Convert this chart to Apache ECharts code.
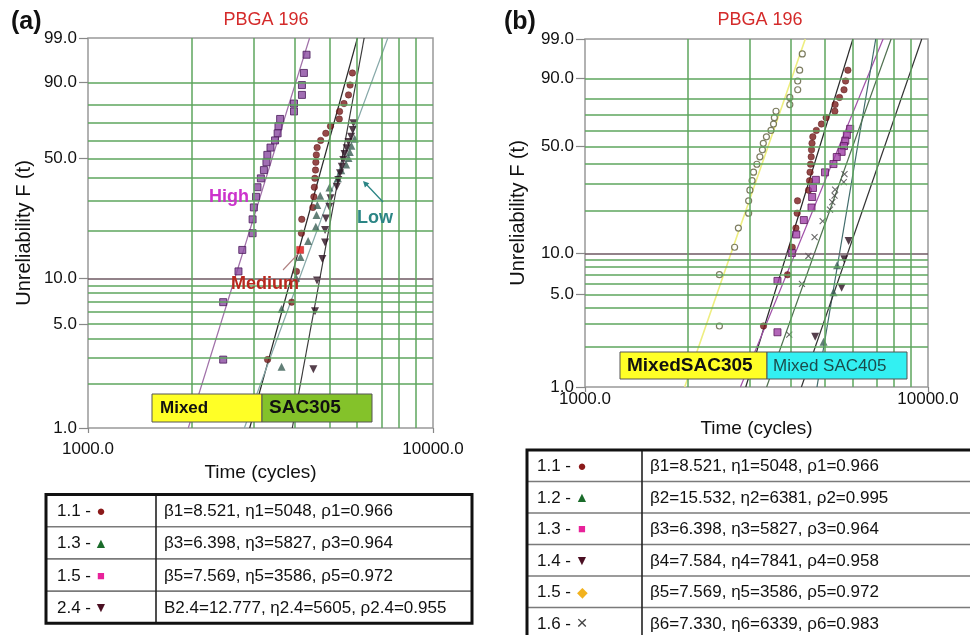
<!DOCTYPE html>
<html>
<head>
<meta charset="utf-8">
<title>PBGA 196 - Weibull plots</title>
<script src="https://cdn.jsdelivr.net/npm/echarts@6.0.0/dist/echarts.min.js"></script>
<style>
  html, body { margin: 0; padding: 0; background: #fff; }
  #chart { width: 970px; height: 635px; }
</style>
</head>
<body>
<div id="chart"></div>
<script>
// Weibull probability plots (a) and (b), PBGA 196
// x: time (cycles) on log scale, y: unreliability F(t) in % on Weibull scale

// grid and tick values
const fGrid = [2, 3, 4, 5, 6, 7, 8, 9, 10, 20, 30, 40, 50, 60, 70, 80, 90];
const fLabels = [1, 5, 10, 50, 90, 99];
const tGrid = [2000, 3000, 4000, 5000, 6000, 7000, 8000, 9000];
const tLabels = [1000, 10000];

// failure data: time (cycles) / F (%)
const t11 = [5840, 5750, 5690, 5520, 5360, 5350, 5045, 4890, 4725, 4615, 4590, 4575, 4565, 4545, 4530, 4515, 4485, 4165, 4155, 4120, 4020, 3895, 3315];
const f11 = [93.0, 88.9, 84.8, 80.7, 76.6, 72.5, 68.4, 64.3, 60.2, 56.1, 52.0, 48.0, 43.9, 39.8, 35.7, 31.6, 27.5, 23.4, 19.3, 15.2, 11.1, 7.0, 2.9];

const t12 = [5430, 5300, 4960];
const f12 = [8.2, 5.2, 2.2];

const t13 = [5930, 5800, 5740, 5690, 5600, 5420, 5300, 5010, 4710, 4620, 4595, 4575, 4345, 4130, 4010, 3640, 3640];
const f13 = [61.2, 57.2, 53.6, 50.3, 46.8, 43.8, 39.9, 35.6, 32.0, 28.4, 24.8, 21.1, 17.3, 13.7, 10.1, 6.3, 2.6];

const t14 = [5870, 5700, 5600, 4690];
const f14 = [12.3, 9.1, 5.6, 2.4];

const t15 = [4300, 4225, 4170, 4170, 3955, 3955, 3605, 3565, 3545, 3485, 3380, 3310, 3290, 3235, 3170, 3100, 3070, 3025, 3000, 3000, 2800, 2730, 2465, 2465];
const f15 = [97.1, 93.0, 88.9, 84.8, 80.7, 76.6, 72.5, 68.4, 64.3, 60.2, 56.1, 52.0, 48.0, 43.9, 39.8, 35.7, 31.6, 27.5, 23.4, 19.3, 15.2, 11.1, 7.0, 2.9];

const t16 = [5710, 5680, 5360, 5340, 5260, 5180, 4930, 4670, 4480, 4290, 3940];
const f16 = [34.7, 31.0, 27.7, 25.3, 22.9, 20.4, 17.0, 13.1, 9.6, 6.0, 2.5];

const t24 = [5880, 5850, 5790, 5690, 5620, 5540, 5495, 5440, 5375, 5315, 5260, 5045, 5005, 4895, 4865, 4865, 4780, 4610, 4550, 4500];
const f24 = [70.1, 66.2, 62.3, 59.3, 55.7, 52.5, 49.2, 45.6, 42.3, 39.0, 35.9, 31.0, 27.7, 23.7, 20.2, 16.9, 13.3, 9.7, 6.1, 2.5];

// the "Medium" point of set 1.1 drawn in red in (a)
const mediumF = 15.2;

// Weibull fit parameters (tables)
const setIds = ['1.1', '1.2', '1.3', '1.4', '1.5', '1.6', '2.4'];
const beta = [8.521, 15.532, 6.398, 7.584, 7.569, 7.330, 12.777];
const eta = [5048, 6381, 5827, 7841, 3586, 6339, 5605];
const rho = [0.966, 0.995, 0.964, 0.958, 0.972, 0.983, 0.955];

const rowsA = ['1.1', '1.3', '1.5', '2.4'];
const rowsB = ['1.1', '1.2', '1.3', '1.4', '1.5', '1.6'];

// ---- helpers ----
const weib = f => Math.log(-Math.log(1 - f / 100));
const lg = t => Math.log10(t);
const toPts = (ts, fs) => ts.map((t, i) => [lg(t), weib(fs[i])]);
const fLo = fLabels[0], fHi = fLabels[fLabels.length - 1];

function fitLine(id) {
  const k = setIds.indexOf(id);
  return [fLo, fHi].map(f => [lg(eta[k]) + weib(f) / (beta[k] * Math.LN10), weib(f)]);
}

function paramText(id) {
  const k = setIds.indexOf(id);
  const sub = id.charAt(0) === '1' ? id.slice(2) : id;
  const b = id === '2.4' ? 'B' : 'β';
  return b + sub + '=' + beta[k].toFixed(3) + ', η' + sub + '=' + eta[k] + ', ρ' + sub + '=' + rho[k].toFixed(3);
}

const FONT = '"Liberation Sans", Arial, sans-serif';

function xAx(gi, margin, gap) {
  const vals = tLabels.map(lg);
  return {
    type: 'value', gridIndex: gi, min: vals[0], max: vals[1],
    axisLine: { show: false, onZero: false }, splitLine: { show: false },
    axisTick: { show: true, customValues: vals, length: 5, lineStyle: { color: '#888', width: 1.2 } },
    axisLabel: { customValues: vals, formatter: v => Math.pow(10, v).toFixed(1), fontSize: 17, color: '#111', margin: margin },
    name: 'Time (cycles)', nameLocation: 'middle', nameGap: gap,
    nameTextStyle: { fontSize: 19, color: '#111' }
  };
}

function yAx(gi, gap) {
  const vals = fLabels.map(weib);
  return {
    type: 'value', gridIndex: gi, min: vals[0], max: vals[vals.length - 1],
    axisLine: { show: false, onZero: false }, splitLine: { show: false },
    axisTick: { show: true, customValues: vals, length: 9, lineStyle: { color: '#888', width: 1.2 } },
    axisLabel: {
      customValues: vals, fontSize: 17, color: '#111', margin: 11,
      formatter: v => (100 * (1 - Math.exp(-Math.exp(v)))).toFixed(1)
    },
    name: 'Unreliability F (t)', nameLocation: 'middle', nameGap: gap,
    nameTextStyle: { fontSize: 20, color: '#111' }
  };
}

function gridLines(gi) {
  const data = fGrid.map(f => f === 10
      ? { yAxis: weib(f), lineStyle: { color: '#6e5862', width: 1.5, type: 'solid' } }
      : { yAxis: weib(f) })
    .concat(tGrid.map(t => ({ xAxis: lg(t) })));
  return {
    type: 'line', xAxisIndex: gi, yAxisIndex: gi, data: [], z: 1, silent: true,
    markLine: {
      symbol: ['none', 'none'], silent: true, animation: false,
      label: { show: false },
      lineStyle: { color: '#5ea65e', width: 1.5, type: 'solid' },
      data: data
    }
  };
}

function fit(gi, id, color, width) {
  return {
    type: 'line', xAxisIndex: gi, yAxisIndex: gi, data: fitLine(id),
    symbol: 'none', silent: true, z: 3,
    lineStyle: { color: color, width: width || 1.2 }
  };
}

function dots(gi, pts, symbol, size, style, extra) {
  return Object.assign({
    type: 'scatter', xAxisIndex: gi, yAxisIndex: gi, data: pts,
    symbol: symbol, symbolSize: size, itemStyle: style, z: 4, silent: true
  }, extra || {});
}

function txt(x, y, text, font, fill, align) {
  return {
    type: 'text', x: x, y: y, z: 110,
    style: {
      text: text, font: font, fill: fill || '#111',
      align: align || 'left', textAlign: align || 'left',
      verticalAlign: 'middle', textVerticalAlign: 'middle'
    }
  };
}

function rect(x, y, w, h, fill, stroke, lw, z) {
  return { type: 'rect', z: z || 105, shape: { x: x, y: y, width: w, height: h },
           style: { fill: fill, stroke: stroke, lineWidth: lw } };
}

function seg(x1, y1, x2, y2, stroke, lw, z) {
  return { type: 'line', z: z || 106, shape: { x1: x1, y1: y1, x2: x2, y2: y2 },
           style: { stroke: stroke, lineWidth: lw } };
}

function table(x0, y0, w, rowH, colX, ids, glyphs, colors, glyphFonts, labelX, glyphDX, valX) {
  const h = rowH * ids.length;
  const els = [rect(x0, y0, w, h, '#fff', null, 0, 104)];
  ids.forEach((id, i) => {
    const cy = y0 + rowH * (i + 0.5) + 1;
    if (i > 0) els.push(seg(x0, y0 + rowH * i, x0 + w, y0 + rowH * i, '#7a7a7a', 1.6));
    els.push(txt(labelX, cy, id + ' - ', '17px ' + FONT));
    els.push(txt(labelX + glyphDX, cy, glyphs[i], glyphFonts[i] + ' ' + FONT, colors[i], 'center'));
    els.push(txt(valX, cy, paramText(id), '17px ' + FONT));
  });
  els.push(seg(colX, y0, colX, y0 + h, '#222', 1.6));
  els.push(rect(x0, y0, w, h, 'none', '#111', 3, 108));
  return els;
}

// ---- marker styles ----
const sCircle = { color: '#7a1c1c', borderColor: '#4a0a0a', borderWidth: 0.5 };
const sTri = { color: '#3b5f55' };
const sDown = { color: '#2a0f1f' };
const sSqA = { color: '#8a4aa0', borderColor: '#4a1a5a', borderWidth: 1 };
const sSqB = { color: '#a040a8', borderColor: '#5a1a5a', borderWidth: 1 };
const sOpen = { color: '#ffffff', borderColor: '#5c5c3a', borderWidth: 1.2 };
const sCross = { color: 'none', borderColor: '#444', borderWidth: 1.1 };
const crossPath = 'path://M0,0L10,10M10,0L0,10';

const pts11a = toPts(t11, f11).map((p, i) => f11[i] === mediumF
  ? { value: p, symbol: 'rect', symbolSize: 7, itemStyle: { color: '#e01010', borderColor: '#a00000' } }
  : p);

const series = [
  gridLines(0), gridLines(1),
  // (a)
  fit(0, '1.5', '#a070a8'),
  fit(0, '1.1', '#2a2a2a'),
  fit(0, '2.4', '#3a3a3a'),
  fit(0, '1.3', '#86a8a8'),
  dots(0, toPts(t15, f15), 'rect', 7, sSqA),
  dots(0, pts11a, 'circle', 6.5, sCircle),
  dots(0, toPts(t13, f13), 'triangle', 8, sTri),
  dots(0, toPts(t24, f24), 'triangle', 8, sDown, { symbolRotate: 180 }),
  // (b)
  fit(1, '1.5', '#eeee80', 1.6),
  fit(1, '1.1', '#2a2a2a'),
  fit(1, '1.3', '#a050a8'),
  fit(1, '1.2', '#3f6a6a'),
  fit(1, '1.6', '#4f704f'),
  fit(1, '1.4', '#333333'),
  dots(1, toPts(t15, f15), 'circle', 6, sOpen),
  dots(1, toPts(t11, f11), 'circle', 6.5, sCircle),
  dots(1, toPts(t13, f13), 'rect', 7, sSqB),
  dots(1, toPts(t16, f16), crossPath, 6, sCross),
  dots(1, toPts(t12, f12), 'triangle', 8, sTri),
  dots(1, toPts(t14, f14), 'triangle', 8, sDown, { symbolRotate: 180 })
];

const graphics = [
  // (a) labels
  txt(11, 22, '(a)', 'bold 25px ' + FONT),
  txt(266, 20, 'PBGA 196', '18px ' + FONT, '#d42a2a', 'center'),
  txt(209, 197, 'High', 'bold 18px ' + FONT, '#cc33cc'),
  txt(231, 284, 'Medium', 'bold 18px ' + FONT, '#b8281e'),
  txt(357, 218, 'Low', 'bold 18px ' + FONT, '#2b8585'),
  seg(383, 202, 366, 184, '#2b8585', 1.3, 107),
  { type: 'polygon', z: 107, shape: { points: [[363, 181], [369.3, 183.2], [364.9, 187.4]] }, style: { fill: '#2b8585' } },
  seg(283, 270, 298, 254, '#b08080', 1.1, 107),
  rect(152, 394, 110, 28, '#ffff26', '#555', 1),
  rect(262, 394, 110, 28, '#84c22a', '#555', 1),
  txt(160, 408, 'Mixed', 'bold 17px ' + FONT),
  txt(269, 408, 'SAC305', 'bold 19px ' + FONT),
  // (b) labels
  txt(504, 22, '(b)', 'bold 25px ' + FONT),
  txt(760, 20, 'PBGA 196', '18px ' + FONT, '#d42a2a', 'center'),
  rect(620, 352, 147, 27, '#ffff26', '#555', 1),
  rect(767, 352, 140, 27, '#33f0f2', '#555', 1),
  txt(627, 366, 'MixedSAC305', 'bold 19px ' + FONT),
  txt(773, 366, 'Mixed SAC405', '17px ' + FONT, '#1b4d4d')
].concat(
  table(46, 494.5, 426, 32.2, 156, rowsA,
        ['●', '▲', '■', '▼'],
        ['#8b1a1a', '#1a6b2a', '#e8229a', '#4a0f22'],
        ['15px', '14px', '13px', '14px'], 57, 44, 164),
  table(527, 450, 460, 31.5, 642, rowsB,
        ['●', '▲', '■', '▼', '◆', '×'],
        ['#8b1a1a', '#1a6b2a', '#e8229a', '#4a0f22', '#f2b21e', '#444'],
        ['15px', '14px', '13px', '14px', '14px', '19px'], 537, 45, 650)
);

const chart = echarts.init(document.getElementById('chart'));
chart.setOption({
  animation: false,
  textStyle: { fontFamily: FONT },
  grid: [
    { left: 88, top: 38, width: 345, height: 390, show: true, borderColor: '#999', borderWidth: 1.5, backgroundColor: 'transparent' },
    { left: 585, top: 39, width: 343, height: 348, show: true, borderColor: '#999', borderWidth: 1.5, backgroundColor: 'transparent' }
  ],
  xAxis: [xAx(0, 13, 35), xAx(1, 4, 32)],
  yAxis: [yAx(0, 54), yAx(1, 57)],
  series: series,
  graphic: { elements: graphics }
});
</script>
</body>
</html>
